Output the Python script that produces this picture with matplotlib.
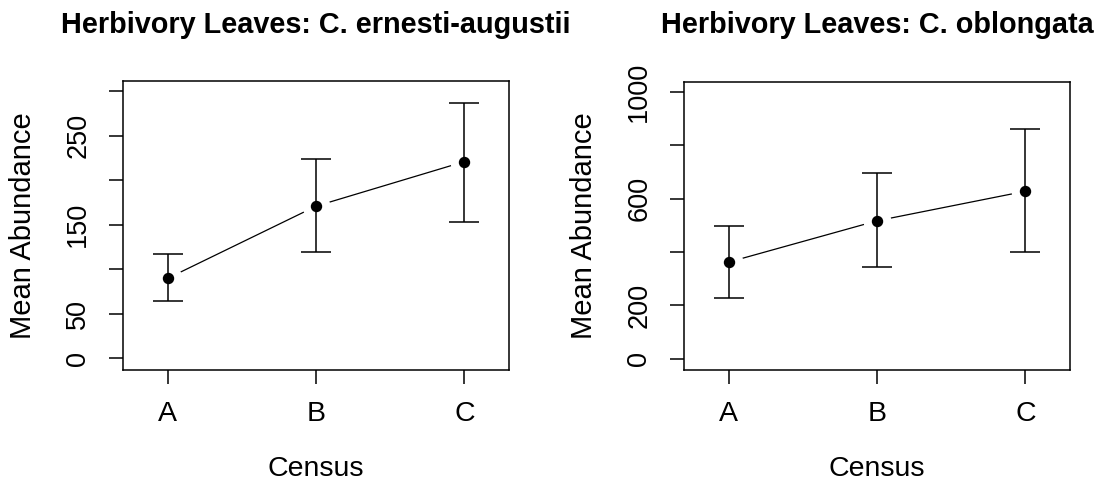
import matplotlib
matplotlib.use('Agg')
import matplotlib.pyplot as plt

plt.rcParams['font.family'] = ['Liberation Sans', 'DejaVu Sans']

# Census groups
census = ['A', 'B', 'C']
census_pos = [1, 2, 3]

# C. ernesti-augustii: mean and error bar ends
ernesti_mean = [90, 171, 221]
ernesti_lower = [65, 120, 153]
ernesti_upper = [117, 224, 287]
ernesti_ticks = [0, 50, 100, 150, 200, 250, 300]
ernesti_ticklabels = ['0', '50', '', '150', '', '250', '']

# C. oblongata: mean and error bar ends
oblongata_mean = [362, 517, 628]
oblongata_lower = [228, 344, 400]
oblongata_upper = [496, 695, 861]
oblongata_ticks = [0, 200, 400, 600, 800, 1000]
oblongata_ticklabels = ['0', '200', '', '600', '', '1000']

W, H = 1097, 482
fig = plt.figure(figsize=(W / 100, H / 100), dpi=100)


def panel(box, mean, lower, upper, ticks, ticklabels, ylim, title):
    x0, y0, x1, y1 = box
    ax = fig.add_axes([x0 / W, 1 - y1 / H, (x1 - x0) / W, (y1 - y0) / H])
    # connecting line with gaps around points (R type = "b")
    ax.plot(census_pos, mean, color='black', lw=0.9, zorder=1)
    ax.plot(census_pos, mean, 'o', ms=20, mfc='white', mec='none', zorder=2)
    yerr = [[m - l for m, l in zip(mean, lower)], [u - m for m, u in zip(mean, upper)]]
    ax.errorbar(census_pos, mean, yerr=yerr, fmt='none', ecolor='black',
                elinewidth=1.1, capsize=11, capthick=1.1, zorder=3)
    ax.plot(census_pos, mean, 'o', ms=7.2, color='black', zorder=4)

    ax.set_xlim(0.7, 3.3)
    ax.set_ylim(*ylim)
    ax.set_xticks(census_pos, census)
    ax.set_yticks(ticks, ticklabels)
    for lab in ax.get_yticklabels():
        lab.set_rotation(90)
        lab.set_va('center')
    ax.tick_params(direction='out', length=10, width=1.1, labelsize=19.5)
    ax.tick_params(axis='x', labelsize=20.5, pad=12)
    ax.tick_params(axis='y', pad=13)
    for s in ax.spines.values():
        s.set_linewidth(1.1)

    cx = (x0 + x1) / 2
    fig.text(cx / W, 1 - 33 / H, title, ha='center', va='baseline',
             fontsize=20.8, fontweight='bold')
    fig.text(cx / W, 1 - 476 / H, 'Census', ha='center', va='baseline', fontsize=20.5)
    fig.text((x0 - 100) / W, 1 - ((y0 + y1) / 2) / H, 'Mean Abundance', rotation=90,
             ha='center', va='center', fontsize=21)
    return ax


panel((123.3, 81, 509, 370), ernesti_mean, ernesti_lower, ernesti_upper,
      ernesti_ticks, ernesti_ticklabels, (-13, 311.5),
      'Herbivory Leaves: C. ernesti-augustii')
panel((684.3, 81.7, 1070, 370), oblongata_mean, oblongata_lower, oblongata_upper,
      oblongata_ticks, oblongata_ticklabels, (-43, 1039),
      'Herbivory Leaves: C. oblongata')

plt.savefig('out.png', dpi=100)
